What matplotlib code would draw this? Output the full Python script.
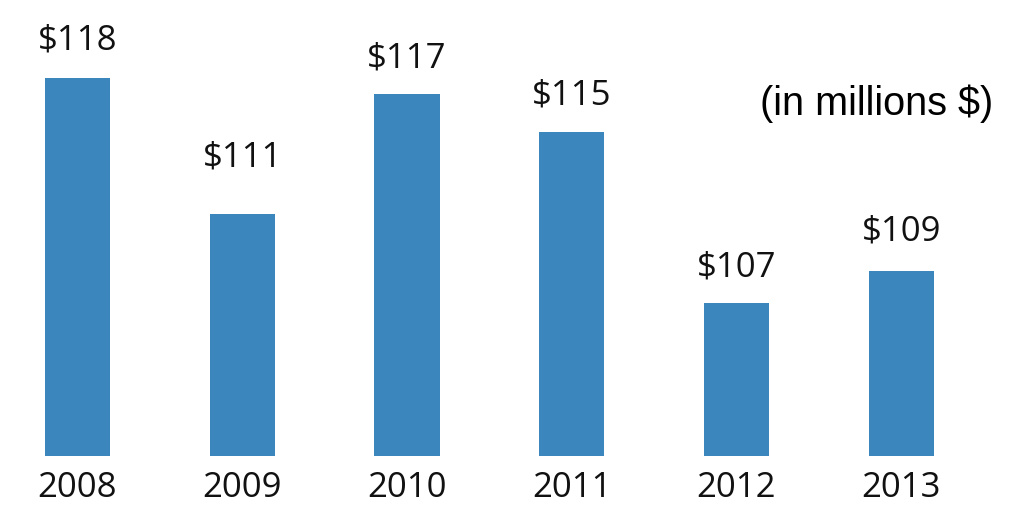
import matplotlib
matplotlib.use('Agg')
import matplotlib.pyplot as plt

years = ['2008', '2009', '2010', '2011', '2012', '2013']
revenue = [117.8, 111.3, 117.0, 115.2, 107.1, 108.6]
labels = ['$118', '$111', '$117', '$115', '$107', '$109']

# label gap above bar (points); 2009's sits higher in the original
label_gap = [20, 34.5, 19, 20, 19, 22]

fig = plt.figure(figsize=(10.24, 5.11), dpi=100)
ax = fig.add_axes([0, 1 - 456 / 511, 1, 456 / 511])

x = list(range(len(years)))
ax.bar(x, revenue, width=0.395, color='#3a86bd')

ax.set_xlim(-0.47, 5.745)
ax.set_ylim(99.82, 99.82 + 456 / 21.05)

for xi, v, lab, g in zip(x, revenue, labels, label_gap):
    ax.annotate(lab, (xi, v), xytext=(0, g), textcoords='offset points',
                ha='center', va='baseline', fontsize=25, family='Open Sans',
                color='#111111')

ax.set_xticks(x)
ax.set_xticklabels(years, fontsize=25, family='Open Sans', color='#111111')
ax.tick_params(axis='x', length=0, pad=11)
ax.set_yticks([])
for s in ax.spines.values():
    s.set_visible(False)

fig.text(993 / 1024, 1 - 104 / 511, '(in millions $)', ha='right', va='center',
         fontsize=28.5, family='Liberation Sans', color='black')

fig.savefig('out.png', dpi=100)
